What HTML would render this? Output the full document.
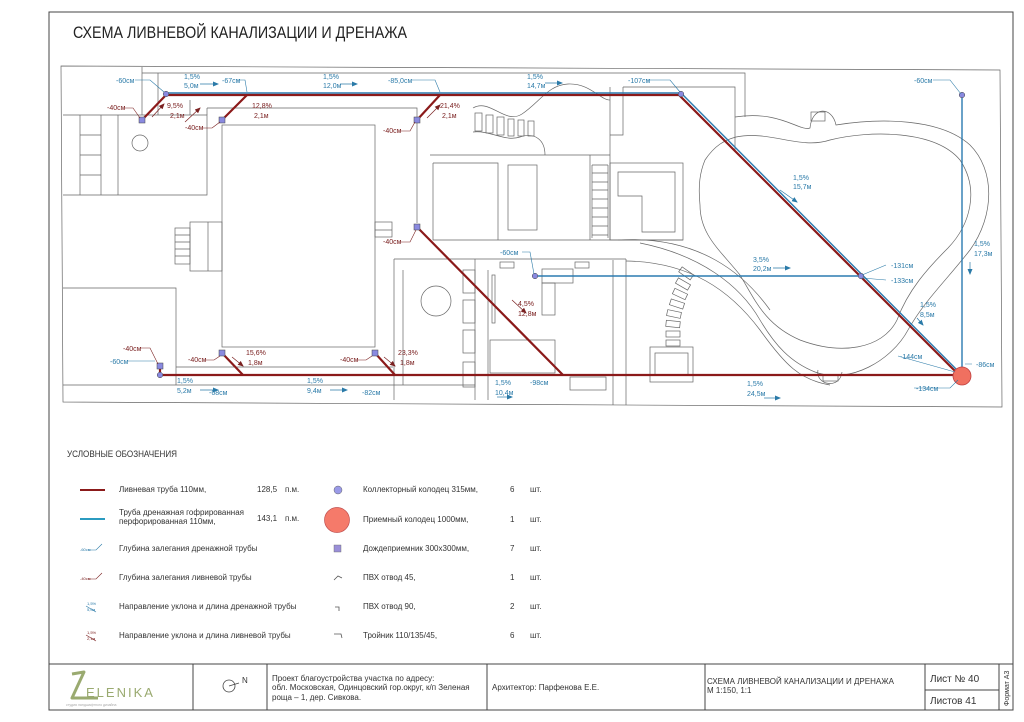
<!DOCTYPE html>
<html><head><meta charset="utf-8"><style>
html,body{margin:0;padding:0;background:#fff;}
svg{display:block;}
text{font-family:"Liberation Sans Narrow","Liberation Sans",sans-serif;}
.b{fill:#2a7aa8;font-size:7px;}
.r{fill:#7a2020;font-size:7px;}
.l{fill:none;stroke:#666;stroke-width:0.7;}
.lg{fill:#333;font-size:8px;}
</style></head><body>
<svg width="1024" height="722" viewBox="0 0 1024 722" xmlns="http://www.w3.org/2000/svg">
<defs>
<marker id="ab" markerWidth="6" markerHeight="6" refX="5" refY="3" orient="auto" markerUnits="userSpaceOnUse"><path d="M0,0.5 L6,3 L0,5.5 Z" fill="#2a7aa8"/></marker>
<marker id="ar" markerWidth="6" markerHeight="6" refX="5" refY="3" orient="auto" markerUnits="userSpaceOnUse"><path d="M0,0.5 L6,3 L0,5.5 Z" fill="#7a2020"/></marker>
</defs>
<rect x="49" y="12" width="964" height="698" fill="none" stroke="#444" stroke-width="1"/>
<text x="73" y="38" font-size="17" fill="#222" textLength="334" lengthAdjust="spacingAndGlyphs">СХЕМА ЛИВНЕВОЙ КАНАЛИЗАЦИИ И ДРЕНАЖА</text>

<g class="l">
<path d="M61,66 L1000,70 L1002,407 L63,402 Z"/>
<path d="M142,67 V115 M142,73 H745 V117"/>
<path d="M63,115 H207 V195 H63 M80,115 V195 M101,115 V195 M118,115 V195 M80,135 H101 M80,155 H101 M80,175 H101"/>
<circle cx="140" cy="143" r="8"/>
<path d="M158,73 V115 M190,100 V115 M207,108 H417 V223 M207,108 V115"/>
<rect x="222" y="125" width="153" height="222"/>
<rect x="190" y="222" width="32" height="49"/><path d="M208,222 V271"/>
<rect x="175" y="228" width="15" height="36"/><path d="M175,235 H190 M175,242 H190 M175,249 H190 M175,256 H190"/>
<rect x="375" y="222" width="17" height="15"/><path d="M375,230 H392"/>
<path d="M63,288 H176 V367 H393 M63,385 H475 M176,367 V385"/>
<path d="M394,259 H626 M394,259 V400 M475,259 V400 M403,270 V385 M488,270 V400 M626,259 V405 M613,260 V405"/>
<circle cx="436" cy="301" r="15"/>
<rect x="463" y="270" width="12" height="23"/><rect x="463" y="300" width="12" height="23"/><rect x="463" y="330" width="12" height="23"/><rect x="463" y="362" width="12" height="25"/>
<rect x="492" y="275" width="3" height="48"/>
<rect x="490" y="340" width="65" height="33"/>
<rect x="542" y="269" width="31" height="14"/><rect x="542" y="283" width="13" height="32"/>
<rect x="570" y="377" width="36" height="13"/>
<rect x="500" y="262" width="14" height="6"/><rect x="575" y="262" width="14" height="6"/>
<path d="M433,163 V240 H683 M433,163 H498 V240"/>
<rect x="508" y="165" width="29" height="65"/>
<path d="M590,155 V240 M610,87 V240 M430,155 H610"/>
<path d="M592,165 H608 M592,173 H608 M592,182 H608 M592,190 H608 M592,199 H608 M592,208 H608 M592,217 H608 M592,226 H608 M592,235 H608 M592,165 V238 M608,165 V238"/>
<rect x="610" y="163" width="73" height="77"/>
<path d="M618,172 H675 V232 H642 V196 H618 Z"/>
<path d="M623,87 V135 H610 M623,87 H735 V150"/>
<path d="M473,108 C490,98 505,125 522,114 C540,102 548,85 568,84 C590,83 600,100 610,100 M473,132 C490,130 505,142 520,137 C535,132 545,140 545,155"/>
<rect x="475" y="113" width="7" height="18"/><rect x="486" y="115" width="7" height="18"/><rect x="497" y="117" width="7" height="18"/><rect x="508" y="119" width="6" height="17"/><rect x="518" y="120" width="6" height="16"/><rect x="528" y="121" width="6" height="15"/>
<path d="M735,117 C780,110 800,132 810,128 C812,106 832,106 836,125 C880,118 940,118 970,145 C995,170 995,215 970,250 C945,282 925,300 908,330 C892,360 850,385 815,372 C790,362 775,345 760,320 C740,285 700,255 640,243 M618,240 C700,235 745,275 770,310"/>
<path d="M736,137 C770,130 800,150 830,140 C870,130 935,130 960,160 C980,190 970,225 948,248 C928,268 908,290 897,320 C882,350 840,355 800,340 C765,325 755,300 740,275 C720,250 700,235 700,205 C698,185 700,172 705,160 C715,145 725,140 736,137"/>
<path d="M626,261 C690,262 730,290 760,330 C785,365 800,380 830,385"/>
<rect x="811" y="112" width="14" height="9"/>
<path d="M818,370 C815,385 840,390 842,372"/><rect x="823" y="375" width="15" height="6"/>
<rect x="650" y="347" width="43" height="35"/><rect x="655" y="353" width="33" height="22"/>
<g transform="rotate(35 685 275)"><rect x="678" y="270" width="14" height="6"/></g>
<g transform="rotate(30 683 284)"><rect x="676" y="281" width="14" height="6"/></g>
<g transform="rotate(25 680 294)"><rect x="673" y="291" width="14" height="6"/></g>
<g transform="rotate(18 677 304)"><rect x="670" y="301" width="14" height="6"/></g>
<g transform="rotate(12 674 314)"><rect x="667" y="311" width="14" height="6"/></g>
<g transform="rotate(6 673 324)"><rect x="666" y="321" width="14" height="6"/></g>
<rect x="666" y="331" width="14" height="6"/><rect x="666" y="340" width="14" height="6"/>
</g>

<g stroke="#2b7bb0" stroke-width="1.4" fill="none">
<path d="M166,93 H681 L961,374"/>
<path d="M535,276 H861"/>
<path d="M962,95 V375"/>
</g>
<g stroke="#8b1a1a" stroke-width="2.2" fill="none">
<path d="M166,95 H679 L959,375 H160 V366"/>
<path d="M166,95 L142,120 M247,95 L222,120 M440,95 L417,120"/>
<path d="M417,227 L563,375 M222,353 L243,375 M375,353 L395,375"/>
</g>
<circle cx="962" cy="376" r="9" fill="#f07060" stroke="#c04040" stroke-width="0.8"/>
<g fill="#8a8ae0" stroke="#444" stroke-width="0.5">
<circle cx="166" cy="94" r="2.8"/><circle cx="962" cy="95" r="2.8"/><circle cx="535" cy="276" r="2.8"/><circle cx="160" cy="375" r="2.8"/><circle cx="681" cy="94" r="2.8"/><circle cx="861" cy="276" r="2.8"/>
<rect x="139" y="117" width="6" height="6"/><rect x="219" y="117" width="6" height="6"/><rect x="414" y="117" width="6" height="6"/><rect x="414" y="224" width="6" height="6"/><rect x="219" y="350" width="6" height="6"/><rect x="372" y="350" width="6" height="6"/><rect x="157" y="363" width="6" height="6"/>
</g>

<g class="b">
<text x="116" y="83">-60см</text><text x="184" y="79">1,5%</text><text x="184" y="88">5,0м</text>
<text x="222" y="83">-67см</text><text x="323" y="79">1,5%</text><text x="323" y="88">12,0м</text>
<text x="388" y="83">-85,0см</text><text x="527" y="79">1,5%</text><text x="527" y="88">14,7м</text>
<text x="628" y="83">-107см</text><text x="914" y="83">-60см</text>
<text x="793" y="180">1,5%</text><text x="793" y="189">15,7м</text>
<text x="974" y="246">1,5%</text><text x="974" y="256">17,3м</text>
<text x="753" y="262">3,5%</text><text x="753" y="271">20,2м</text>
<text x="891" y="268">-131см</text><text x="891" y="283">-133см</text>
<text x="920" y="307">1,5%</text><text x="920" y="317">8,5м</text>
<text x="900" y="359">-144см</text><text x="976" y="367">-86см</text><text x="916" y="391">-134см</text>
<text x="500" y="255">-60см</text><text x="110" y="364">-60см</text>
<text x="177" y="383">1,5%</text><text x="177" y="393">5,2м</text><text x="209" y="395">-68см</text>
<text x="307" y="383">1,5%</text><text x="307" y="393">9,4м</text><text x="362" y="395">-82см</text>
<text x="495" y="385">1,5%</text><text x="495" y="395">10,4м</text><text x="530" y="385">-98см</text>
<text x="747" y="386">1,5%</text><text x="747" y="396">24,5м</text>
</g>
<g stroke="#2a7aa8" stroke-width="0.6" fill="none">
<path d="M135,80 H150 L164,92 M237,80 H245 L247,92 M412,80 H435 L440,92 M647,80 H670 L680,92 M933,80 H950 L961,94 M522,252 H530 L534,274 M886,265 L862,275 M886,280 L862,278 M898,356 L955,372 M972,364 H965 M914,388 H950 L958,380 M128,361 H155"/>
</g>
<g stroke="#2a7aa8" stroke-width="0.7" fill="none" marker-end="url(#ab)">
<path d="M200,84 H218"/><path d="M340,84 H357"/><path d="M545,83 H562"/><path d="M773,268 H790"/><path d="M497,397 H512"/><path d="M764,398 H780"/><path d="M200,390 H218"/><path d="M330,390 H347"/><path d="M780,190 L797,202"/><path d="M970,262 V274"/><path d="M917,318 L923,325"/>
</g>
<g class="r">
<text x="107" y="110">-40см</text><text x="167" y="108">9,5%</text><text x="170" y="118">2,1м</text>
<text x="252" y="108">12,8%</text><text x="254" y="118">2,1м</text><text x="185" y="130">-40см</text>
<text x="440" y="108">21,4%</text><text x="442" y="118">2,1м</text><text x="383" y="133">-40см</text>
<text x="383" y="244">-40см</text><text x="518" y="306">4,5%</text><text x="518" y="316">12,8м</text>
<text x="123" y="351">-40см</text><text x="188" y="362">-40см</text><text x="246" y="355">15,6%</text><text x="248" y="365">1,8м</text>
<text x="340" y="362">-40см</text><text x="398" y="355">23,3%</text><text x="400" y="365">1,8м</text>
</g>
<g stroke="#7a2020" stroke-width="0.6" fill="none">
<path d="M124,108 H133 L140,118 M202,128 H212 L220,122 M400,131 H410 L415,122 M400,242 H410 L416,230 M140,348 H150 L158,364 M205,360 H214 L220,356 M357,360 H366 L372,356"/>
</g>
<g stroke="#7a2020" stroke-width="0.7" fill="none" marker-end="url(#ar)">
<path d="M152,117 L164,104"/><path d="M185,122 L200,108"/><path d="M427,118 L440,105"/><path d="M512,300 L526,313"/><path d="M232,357 L243,366"/><path d="M384,357 L395,366"/>
</g>

<text x="67" y="457" font-size="9" fill="#333" textLength="110" lengthAdjust="spacingAndGlyphs">УСЛОВНЫЕ ОБОЗНАЧЕНИЯ</text>
<line x1="80" y1="490" x2="105" y2="490" stroke="#8b1a1a" stroke-width="2"/>
<line x1="80" y1="519" x2="105" y2="519" stroke="#2b9bc0" stroke-width="2"/>
<g class="lg">
<text x="119" y="492">Ливневая труба 110мм,</text><text x="257" y="492">128,5</text><text x="285" y="492">п.м.</text>
<text x="119" y="515">Труба дренажная гофрированная</text><text x="119" y="524">перфорированная 110мм,</text><text x="257" y="521">143,1</text><text x="285" y="521">п.м.</text>
<text x="119" y="551">Глубина залегания дренажной трубы</text>
<text x="119" y="580">Глубина залегания ливневой трубы</text>
<text x="119" y="609">Направление уклона и длина дренажной трубы</text>
<text x="119" y="638">Направление уклона и длина ливневой трубы</text>
<text x="363" y="492">Коллекторный колодец 315мм,</text><text x="510" y="492">6</text><text x="530" y="492">шт.</text>
<text x="363" y="522">Приемный колодец 1000мм,</text><text x="510" y="522">1</text><text x="530" y="522">шт.</text>
<text x="363" y="551">Дождеприемник 300х300мм,</text><text x="510" y="551">7</text><text x="530" y="551">шт.</text>
<text x="363" y="580">ПВХ отвод 45,</text><text x="510" y="580">1</text><text x="530" y="580">шт.</text>
<text x="363" y="609">ПВХ отвод 90,</text><text x="510" y="609">2</text><text x="530" y="609">шт.</text>
<text x="363" y="638">Тройник 110/135/45,</text><text x="510" y="638">6</text><text x="530" y="638">шт.</text>
</g>
<text x="80" y="551" font-size="4" fill="#2a7aa8">-60см</text><path d="M88,550 H96 L102,544" stroke="#2a7aa8" stroke-width="0.6" fill="none"/>
<text x="80" y="580" font-size="4" fill="#7a2020">-40см</text><path d="M88,579 H96 L102,573" stroke="#7a2020" stroke-width="0.6" fill="none"/>
<text x="87" y="605" font-size="4" fill="#2a7aa8">1,5%</text><text x="87" y="611" font-size="4" fill="#2a7aa8">5,0м</text>
<path d="M86,606 L96,612" stroke="#2a7aa8" stroke-width="0.6"/>
<text x="87" y="634" font-size="4" fill="#7a2020">1,5%</text><text x="87" y="640" font-size="4" fill="#7a2020">2,1м</text>
<path d="M86,635 L96,641" stroke="#7a2020" stroke-width="0.6"/>
<circle cx="338" cy="490" r="4" fill="#9a9ae8" stroke="#666" stroke-width="0.5"/>
<circle cx="337" cy="520" r="12.5" fill="#f57a6a" stroke="#c05050" stroke-width="0.7"/>
<rect x="334" y="545" width="7" height="7" fill="#9a8fd8" stroke="#666" stroke-width="0.4"/>
<path d="M334,580 L338,576 L342,578 M335,607 H339 V611 M334,634 H341 L342,638" stroke="#555" stroke-width="0.8" fill="none"/>

<g stroke="#444" stroke-width="1" fill="none">
<path d="M49,664 H1013 M193,664 V710 M267,664 V710 M487,664 V710 M705,664 V710 M925,664 V710 M999,664 V710 M925,690 H999"/>
<circle cx="229" cy="686" r="6" stroke-width="0.8"/><path d="M229,686 L239,683" stroke-width="0.8"/>
</g>
<text x="242" y="683" font-size="8" fill="#333">N</text>
<path d="M72,674 L84,672 L72,698 H98" stroke="#9aaa70" stroke-width="3" fill="none" stroke-linejoin="round"/>
<text x="86" y="697" font-size="13" fill="#9aaa70" letter-spacing="2">ELENIKA</text>
<text x="66" y="706" font-size="3.5" fill="#aaa">студия ландшафтного дизайна</text>
<g font-size="8" fill="#333">
<text x="272" y="681">Проект благоустройства участка по адресу:</text>
<text x="272" y="690">обл. Московская, Одинцовский гор.округ, к/п Зеленая</text>
<text x="272" y="700">роща – 1, дер. Сивкова.</text>
<text x="492" y="690">Архитектор: Парфенова Е.Е.</text>
<text x="707" y="684">СХЕМА ЛИВНЕВОЙ КАНАЛИЗАЦИИ И ДРЕНАЖА</text>
<text x="707" y="693">М 1:150, 1:1</text>
</g>
<text x="930" y="682" font-size="10" fill="#333">Лист № 40</text>
<text x="930" y="704" font-size="10" fill="#333">Листов 41</text>
<text x="0" y="0" font-size="7" fill="#333" transform="translate(1009,706) rotate(-90)">Формат А3</text>
</svg>
</body></html>
